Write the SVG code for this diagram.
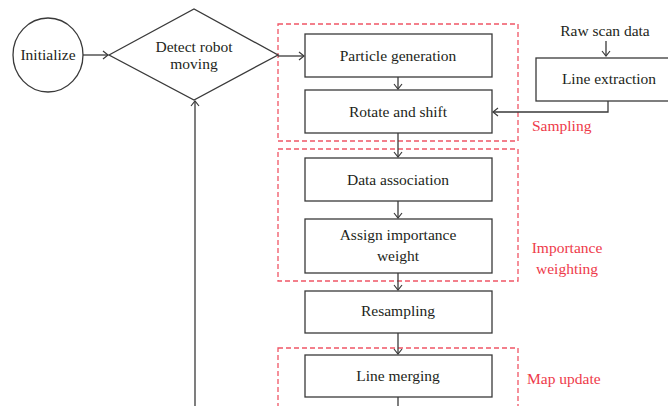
<svg xmlns="http://www.w3.org/2000/svg" width="668" height="406" viewBox="0 0 668 406">
<defs>
<style>
.n{fill:#fff;stroke:#3a3a3a;stroke-width:1.3}
.t{font-family:"Liberation Serif",serif;font-size:15.5px;fill:#231f20;text-anchor:middle}
.r{font-family:"Liberation Serif",serif;font-size:15.5px;fill:#ee3a4a}
.g{fill:none;stroke:#f05565;stroke-width:1.3;stroke-dasharray:5 3}
.c{fill:none;stroke:#3a3a3a;stroke-width:1.3}
</style>
<marker id="a" markerUnits="userSpaceOnUse" markerWidth="12" markerHeight="12" refX="6" refY="5" orient="auto" overflow="visible">
<path d="M1,1 L6,5 L1,9" fill="none" stroke="#3a3a3a" stroke-width="1.2"/>
</marker>
</defs>
<g id="groups">
<rect class="g" x="278" y="24" width="240" height="117"/>
<rect class="g" x="278" y="149" width="240" height="132"/>
<rect class="g" x="278" y="348" width="240" height="70"/>
<text class="r" x="532" y="131">Sampling</text>
<text class="r" x="567" y="253" text-anchor="middle">Importance</text>
<text class="r" x="567" y="274" text-anchor="middle">weighting</text>
<text class="r" x="527" y="384">Map update</text>
</g>
<g id="connectors">
<line class="c" x1="83" y1="55" x2="108" y2="55" marker-end="url(#a)"/>
<line class="c" x1="278" y1="56" x2="304" y2="56" marker-end="url(#a)"/>
<line class="c" x1="398" y1="77" x2="398" y2="89" marker-end="url(#a)"/>
<line class="c" x1="606" y1="41" x2="606" y2="56" marker-end="url(#a)"/>
<polyline class="c" points="608,101 608,112 493,112" marker-end="url(#a)"/>
<line class="c" x1="398" y1="133" x2="398" y2="157" marker-end="url(#a)"/>
<line class="c" x1="398" y1="201" x2="398" y2="218" marker-end="url(#a)"/>
<line class="c" x1="398" y1="273" x2="398" y2="290" marker-end="url(#a)"/>
<line class="c" x1="398" y1="333" x2="398" y2="354" marker-end="url(#a)"/>
<line class="c" x1="398" y1="397" x2="398" y2="410"/>
<line class="c" x1="195" y1="410" x2="195" y2="101" marker-end="url(#a)"/>
</g>
<g id="initialize">
<ellipse class="n" cx="48" cy="55" rx="35" ry="37"/>
<text class="t" x="48" y="60">Initialize</text>
</g>
<g id="detect">
<polygon class="n" points="109,55 194,9 278,55 194,100"/>
<text class="t" x="194" y="52">Detect robot</text>
<text class="t" x="194" y="69">moving</text>
</g>
<g id="particle">
<rect class="n" x="305" y="34" width="187" height="43"/>
<text class="t" x="398" y="61">Particle generation</text>
</g>
<g id="rotate">
<rect class="n" x="305" y="90" width="187" height="43"/>
<text class="t" x="398" y="117">Rotate and shift</text>
</g>
<g id="rawscan">
<text class="t" x="605" y="36">Raw scan data</text>
</g>
<g id="lineextraction">
<rect class="n" x="536" y="58" width="140" height="43"/>
<text class="t" x="609" y="84">Line extraction</text>
</g>
<g id="dataassoc">
<rect class="n" x="305" y="158" width="187" height="43"/>
<text class="t" x="398" y="185">Data association</text>
</g>
<g id="assign">
<rect class="n" x="305" y="219" width="187" height="54"/>
<text class="t" x="398" y="240">Assign importance</text>
<text class="t" x="398" y="261">weight</text>
</g>
<g id="resampling">
<rect class="n" x="305" y="291" width="187" height="42"/>
<text class="t" x="398" y="316">Resampling</text>
</g>
<g id="linemerging">
<rect class="n" x="305" y="355" width="187" height="42"/>
<text class="t" x="398" y="381">Line merging</text>
</g>
</svg>
